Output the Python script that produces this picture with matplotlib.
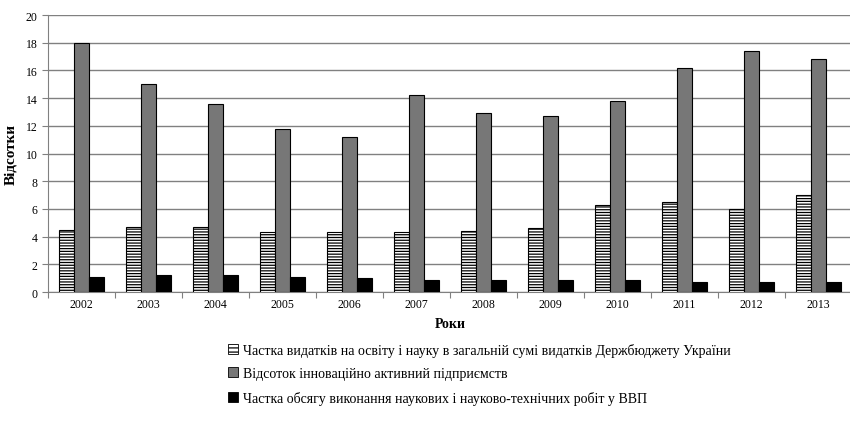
import numpy as np
import matplotlib.pyplot as plt
from matplotlib.patches import Patch

years = ["2002", "2003", "2004", "2005", "2006", "2007",
         "2008", "2009", "2010", "2011", "2012", "2013"]
edu_share = [4.5, 4.7, 4.7, 4.3, 4.3, 4.3, 4.4, 4.6, 6.3, 6.5, 6.0, 7.0]
innov_share = [18.0, 15.0, 13.6, 11.8, 11.2, 14.2, 12.9, 12.7, 13.8, 16.2, 17.4, 16.8]
rnd_share = [1.1, 1.2, 1.2, 1.1, 1.0, 0.9, 0.9, 0.9, 0.9, 0.75, 0.75, 0.75]

labels = [
    "Частка видатків на освіту і науку в загальній сумі видатків Держбюджету України",
    "Відсоток інноваційно активний підприємств",
    "Частка обсягу виконання наукових і науково-технічних робіт у ВВП",
]

plt.rcParams["font.family"] = ["Liberation Serif", "DejaVu Serif"]
plt.rcParams["hatch.color"] = "#8a8a8a"
plt.rcParams["hatch.linewidth"] = 0.9

fig = plt.figure(figsize=(8.5, 4.27), dpi=100)
ax = fig.add_axes([0.0565, 0.3138, 0.946, 0.6487])

x = np.arange(len(years))
w = 0.224
ax.bar(x - w, edu_share, w, color="white", edgecolor="black", linewidth=0.8,
       hatch="------", zorder=3)
ax.bar(x, innov_share, w, color="#777777", edgecolor="black", linewidth=0.8, zorder=3)
ax.bar(x + w, rnd_share, w, color="black", edgecolor="black", linewidth=0.8, zorder=3)

ax.set_xlim(-0.5, len(years) - 0.5)
ax.set_ylim(0, 20)
ax.set_yticks(range(0, 21, 2))
ax.yaxis.grid(True, color="#808080", linewidth=1.0, zorder=0)
ax.set_axisbelow(True)

ax.set_xticks(x)
ax.set_xticklabels(years, fontsize=8.5)
ax.set_xticks(np.arange(-0.5, len(years)), minor=True)
ax.tick_params(axis="x", which="major", length=0, pad=4)
ax.tick_params(axis="x", which="minor", length=4, width=0.8, color="#808080")
ax.tick_params(axis="y", labelsize=8.5, length=4, width=0.8, color="#808080")

for s in ["top", "right"]:
    ax.spines[s].set_visible(False)
ax.spines["left"].set_color("#808080")
ax.spines["bottom"].set_color("#808080")

ax.set_ylabel("Відсотки", fontsize=11, fontweight="bold", labelpad=6)
ax.set_xlabel("Роки", fontsize=10, fontweight="bold", labelpad=5)

handles = [
    Patch(facecolor="white", edgecolor="black", hatch="----", linewidth=0.6),
    Patch(facecolor="#777777", edgecolor="black", linewidth=0.6),
    Patch(facecolor="black", edgecolor="black", linewidth=0.6),
]
fig.legend(handles, labels, loc="upper left", bbox_to_anchor=(0.268, 0.195),
           frameon=False, fontsize=10, handlelength=0.7, handleheight=0.7,
           handletextpad=0.4, labelspacing=0.75, borderaxespad=0, borderpad=0)

fig.savefig("out.png", dpi=100)
